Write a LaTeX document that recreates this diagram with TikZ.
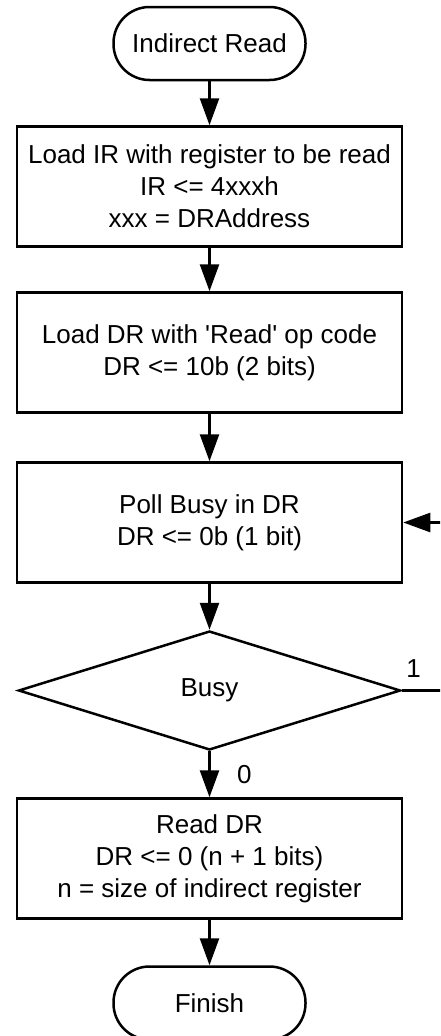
\documentclass[tikz,border=0pt]{standalone}
\usepackage{fontspec}
\setmainfont{Liberation Sans}
\usetikzlibrary{arrows.meta,shapes.geometric}

\begin{document}
\begin{tikzpicture}[x=1pt,y=-1pt,
  every node/.style={font=\fontsize{26}{32}\selectfont,align=center},
  term/.style={draw,line width=2.5pt,rounded corners=36pt,minimum width=192pt,minimum height=73pt,inner sep=0pt},
  stepbox/.style={draw,line width=2.5pt,minimum width=385pt,minimum height=120pt,inner sep=0pt},
  test/.style={draw,diamond,line width=2.5pt,minimum width=382pt,minimum height=119pt,inner sep=0pt},
  flow/.style={line width=2.5pt,-{Triangle[length=27pt,width=19pt]}}]
  \useasboundingbox (0,0) rectangle (440,1036);
  \clip (0,0) rectangle (440,1036);
  \node[term] (start) at (209.5,43.5) {Indirect Read};
  \node[stepbox] (loadir) at (209.5,186.5) {Load IR with register to be read\\IR <= 4xxxh\\xxx = DRAddress};
  \node[stepbox] (loaddr) at (209.5,352.5) {Load DR with \textquotesingle Read\textquotesingle{} op code\\DR <= 10b (2 bits)};
  \node[stepbox] (poll) at (209.5,522.5) {Poll Busy in DR\\DR <= 0b (1 bit)};
  \node[test] (busy) at (209.5,690.5) {Busy};
  \node[stepbox] (readdr) at (209.5,858.5) {Read DR\\DR <= 0 (n + 1 bits)\\n = size of indirect register};
  \node[term] (finish) at (209.5,1003) {Finish};
  \coordinate (loopb) at (470,690.5);
  \coordinate (loopt) at (470,522.5);
  \draw[flow] (start) -- (loadir);
  \draw[flow] (loadir) -- (loaddr);
  \draw[flow] (loaddr) -- (poll);
  \draw[flow] (poll) -- (busy);
  \draw[flow] (busy.south) -- node[right,xshift=23pt] {0} (readdr);
  \draw[flow] (busy.east) -- (loopb) -- (loopt) -- (poll.east);
  \node[anchor=south west,xshift=1pt,yshift=9pt] (one) at (busy.east) {1};
  \draw[flow] (readdr) -- (finish);
\end{tikzpicture}
\end{document}
